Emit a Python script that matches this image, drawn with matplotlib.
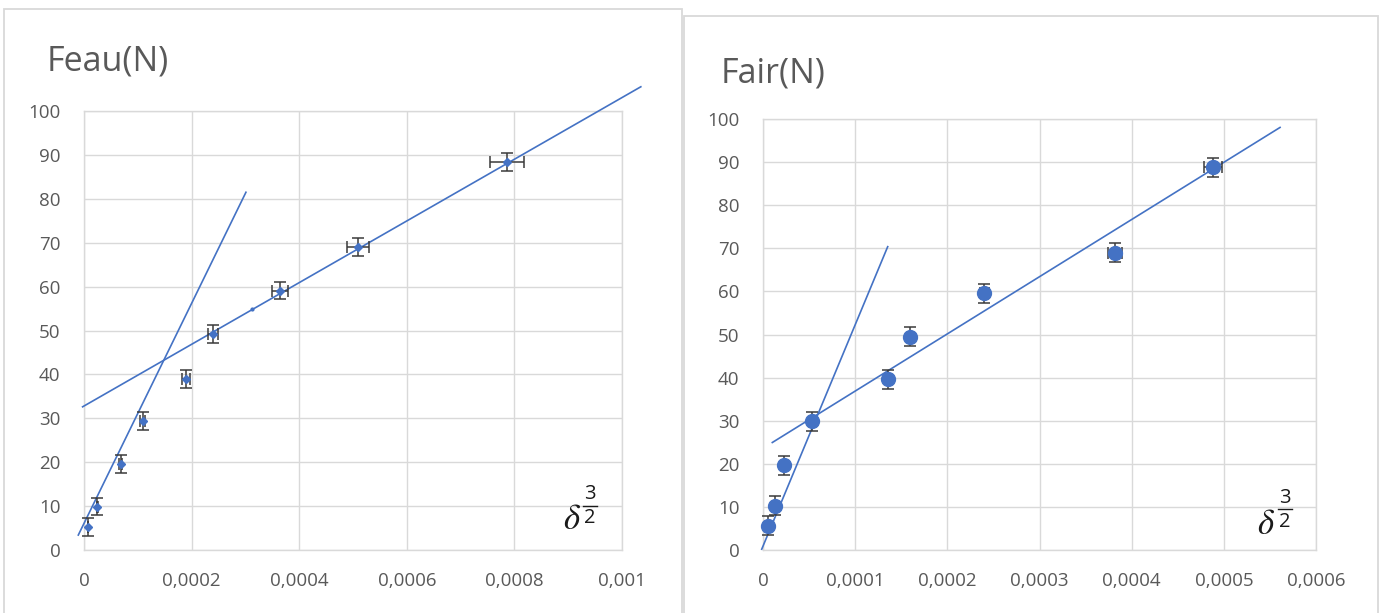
import matplotlib
matplotlib.use('Agg')
import matplotlib.pyplot as plt
from matplotlib.patches import Rectangle
from matplotlib.lines import Line2D

W, H = 1384, 613

# ---------------- data ----------------
eau_x = [0.0000069, 0.0000248, 0.0000682, 0.000109, 0.00019, 0.00024, 0.000364, 0.00051, 0.000787]
eau_y = [5.3, 9.9, 19.6, 29.4, 39.0, 49.2, 59.1, 69.0, 88.4]
eau_xerr = [0.0000003, 0.000001, 0.0000027, 0.0000044, 0.0000076, 0.0000096, 0.0000146, 0.0000204, 0.0000315]
eau_yerr = [2.0, 2.0, 2.0, 2.0, 2.0, 2.0, 2.0, 2.0, 2.0]
eau_extra_x = [0.000312]
eau_extra_y = [54.8]

air_x = [0.0000051, 0.000013, 0.0000231, 0.0000528, 0.000136, 0.00016, 0.00024, 0.000382, 0.000488]
air_y = [5.6, 10.3, 19.7, 29.9, 39.6, 49.5, 59.6, 69.0, 88.8]
air_xerr = [0.0000001, 0.0000003, 0.0000005, 0.0000011, 0.0000027, 0.0000032, 0.0000048, 0.0000076, 0.0000098]
air_yerr = [2.2, 2.2, 2.2, 2.2, 2.2, 2.2, 2.2, 2.2, 2.2]

# trendlines: slope, intercept, x-start, x-end
eau_trend1 = (250600.0, 6.06, -0.0000106, 0.000301)
eau_trend2 = (70260.0, 32.8, -0.0000026, 0.001035)
air_trend1 = (513500.0, 0.9, -0.0000014, 0.0001353)
air_trend2 = (132700.0, 23.6, 0.0000101, 0.000561)

eau_xticks = [0, 0.0002, 0.0004, 0.0006, 0.0008, 0.001]
eau_xlabels = ['0', '0,0002', '0,0004', '0,0006', '0,0008', '0,001']
air_xticks = [0, 0.0001, 0.0002, 0.0003, 0.0004, 0.0005, 0.0006]
air_xlabels = ['0', '0,0001', '0,0002', '0,0003', '0,0004', '0,0005', '0,0006']
yticks = [0, 10, 20, 30, 40, 50, 60, 70, 80, 90, 100]
ylabels = [str(v) for v in yticks]

BLUE = '#4472C4'
GRID = '#d9d9d9'
TXT = '#595959'
FONT = 'Open Sans'

plt.rcParams['font.family'] = [FONT, 'DejaVu Sans']

fig = plt.figure(figsize=(W / 100, H / 100), dpi=100)
fig.patch.set_facecolor('white')

# chart-area borders
fig.patches.append(Rectangle((4 / W, -0.01), (682 - 4) / W, 1 - 9 / H + 0.01,
                             transform=fig.transFigure, fill=False, ec='#d9d9d9', lw=1.3))
fig.patches.append(Rectangle((684 / W, -0.01), (1378 - 684) / W, 1 - 16 / H + 0.01,
                             transform=fig.transFigure, fill=False, ec='#d9d9d9', lw=1.3))


def setup(ax, xmax, xticks, xlabels):
    ax.set_xlim(0, xmax)
    ax.set_ylim(0, 100)
    ax.set_xticks(xticks)
    ax.set_xticklabels(xlabels)
    ax.set_yticks(yticks)
    ax.set_yticklabels(ylabels)
    ax.grid(True, color=GRID, lw=1.0, zorder=0)
    ax.set_axisbelow(True)
    for s in ax.spines.values():
        s.set_color(GRID)
        s.set_linewidth(1.0)
    ax.tick_params(length=0, labelsize=13.5, labelcolor=TXT)
    ax.tick_params(axis='x', pad=16)
    ax.tick_params(axis='y', pad=17)


def trend(ax, t):
    m, b, x0, x1 = t
    xs = [x0, x1]
    ys = [m * x0 + b, m * x1 + b]
    ln = Line2D(xs, ys, color=BLUE, lw=1.2, zorder=3, clip_on=False)
    ax.add_line(ln)


# ---------- left chart ----------
ax1 = fig.add_axes([84 / W, 1 - 550 / H, (622 - 84) / W, (550 - 111) / H])
setup(ax1, 0.001, eau_xticks, eau_xlabels)
trend(ax1, eau_trend1)
trend(ax1, eau_trend2)
ax1.errorbar(eau_x, eau_y, xerr=eau_xerr, yerr=eau_yerr, fmt='D', ms=4.5,
             mfc=BLUE, mec=BLUE, ecolor='#3a3a3a', elinewidth=1.1, capsize=4,
             capthick=1.1, zorder=4, clip_on=False)
ax1.plot(eau_extra_x, eau_extra_y, 'o', ms=2, color=BLUE, zorder=4)

# ---------- right chart ----------
ax2 = fig.add_axes([763 / W, 1 - 550 / H, (1316 - 763) / W, (550 - 119) / H])
setup(ax2, 0.0006, air_xticks, air_xlabels)
trend(ax2, air_trend1)
trend(ax2, air_trend2)
ax2.errorbar(air_x, air_y, xerr=air_xerr, yerr=air_yerr, fmt='o', ms=10,
             mfc=BLUE, mec=BLUE, ecolor='#3a3a3a', elinewidth=1.1, capsize=4,
             capthick=1.1, zorder=4, clip_on=False)

# ---------- titles ----------
fig.text(47 / W, 1 - 62 / H, 'Feau(N)', fontsize=24.5, color=TXT, ha='left', va='center')
fig.text(721 / W, 1 - 73 / H, 'Fair(N)', fontsize=24.5, color=TXT, ha='left', va='center')


# ---------- delta^(3/2) labels ----------
def delta_label(xd, yd, xf, y3, y2, ybar):
    fig.text(xd / W, 1 - yd / H, r'$\delta$', fontsize=25, color='#1a1a1a',
             ha='left', va='center', math_fontfamily='stix')
    fig.text(xf / W, 1 - y3 / H, '3', fontsize=14.5, color='#1a1a1a', ha='center', va='center')
    fig.text(xf / W, 1 - y2 / H, '2', fontsize=14.5, color='#1a1a1a', ha='center', va='center')
    fig.add_artist(Line2D([(xf - 7) / W, (xf + 7) / W], [1 - ybar / H, 1 - ybar / H],
                          transform=fig.transFigure, color='#1a1a1a', lw=1.0))


delta_label(563, 520, 590, 494, 518, 506)
delta_label(1257, 525, 1285, 498, 522, 509)

fig.savefig('out.png', dpi=100, facecolor='white')
